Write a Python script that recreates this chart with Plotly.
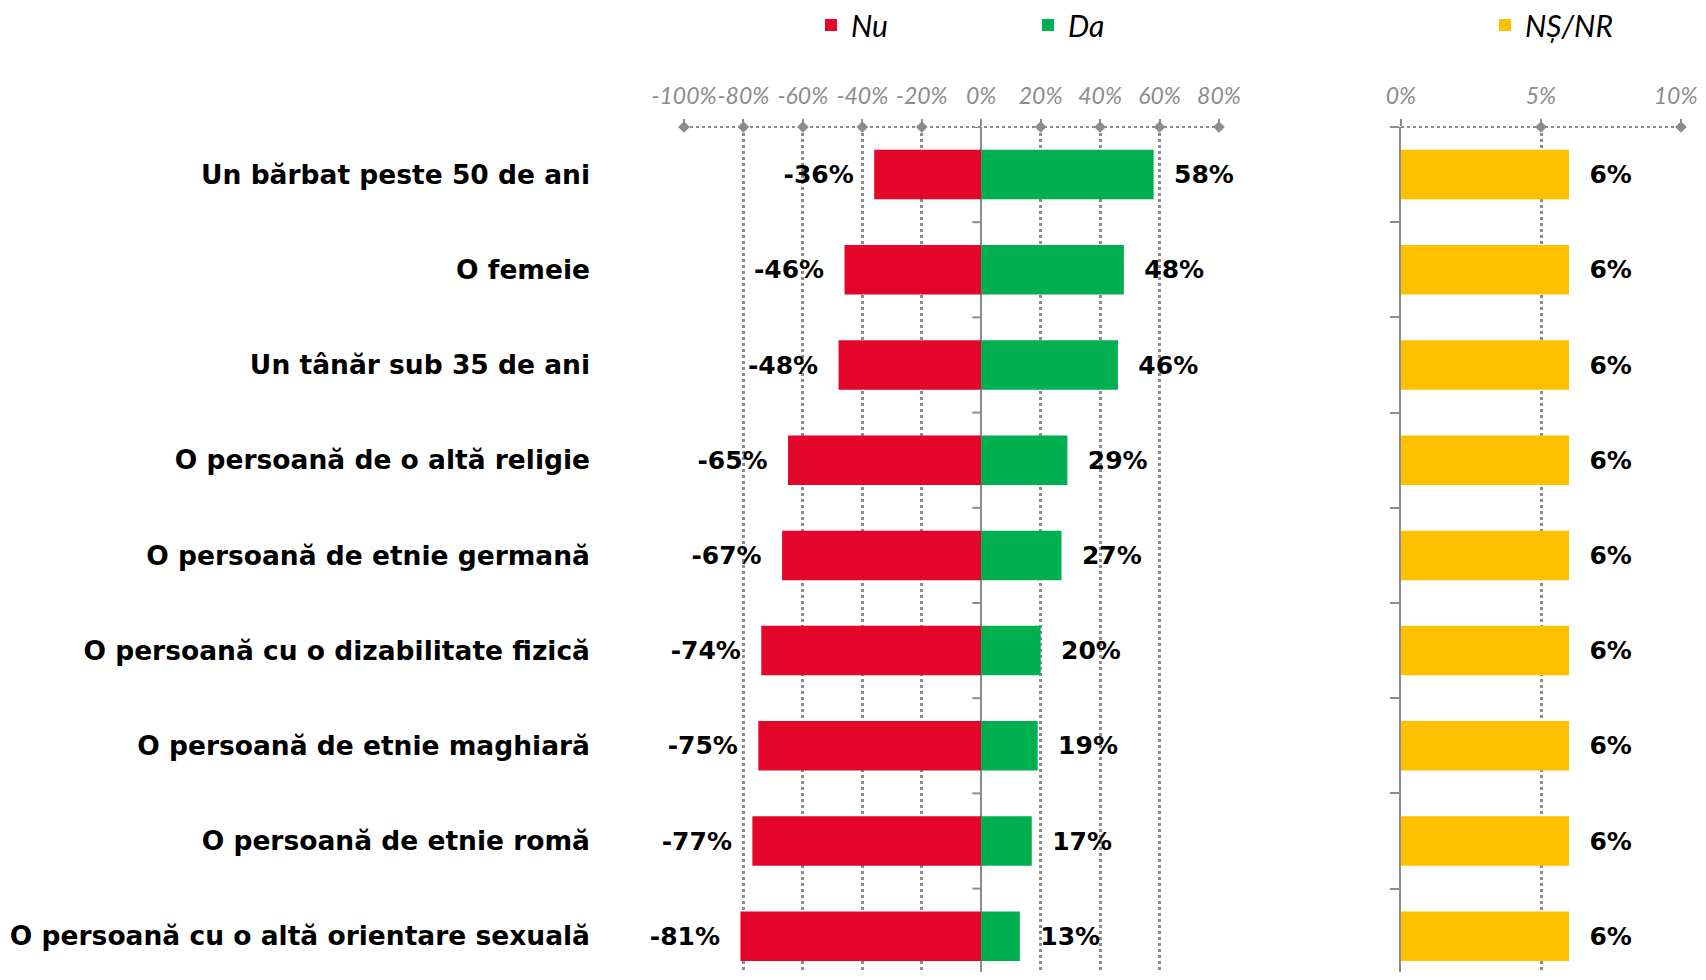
import plotly.graph_objects as go

categories = [
    "Un bărbat peste 50 de ani",
    "O femeie",
    "Un tânăr sub 35 de ani",
    "O persoană de o altă religie",
    "O persoană de etnie germană",
    "O persoană cu o dizabilitate fizică",
    "O persoană de etnie maghiară",
    "O persoană de etnie romă",
    "O persoană cu o altă orientare sexuală",
]
nu_values = [-36, -46, -48, -65, -67, -74, -75, -77, -81]
da_values = [58, 48, 46, 29, 27, 20, 19, 17, 13]
ns_values = [6, 6, 6, 6, 6, 6, 6, 6, 6]

left_ticks = [-100, -80, -60, -40, -20, 0, 20, 40, 60, 80]
left_ticklabels = ["-100%", "-80%", "-60%", "-40%", "-20%", "0%", "20%", "40%", "60%", "80%"]
right_ticks = [0, 5, 10]
right_ticklabels = ["0%", "5%", "10%\u00a0\u00a0"]

RED = "#E4052B"
GREEN = "#00B050"
YELLOW = "#FFC000"
GRAY = "#8C8C8C"
BOLD_FONT = "DejaVu Sans"
IT_FONT = "Lato"

OFF = 8  # page body margin (both sides)
W, H = 1706 - 2 * OFF, 980 - 2 * OFF
top_px = 127 - OFF
lx0, lx1 = 684 - OFF, 1219 - OFF
rx0, rx1 = 1401 - OFF, 1681 - OFF
row_px = 95.2
y_range = [-0.5 + (H - top_px) / row_px, -0.5]  # reversed: first category at top

label_font = dict(family=BOLD_FONT, size=25, color="black", weight="bold")

fig = go.Figure()
fig.add_trace(go.Bar(
    name="Nu", y=categories, x=nu_values, orientation="h",
    marker=dict(color=RED, line=dict(width=0)),
    text=[f"{v}%  " for v in nu_values], textposition="outside",
    textfont=label_font, cliponaxis=False, constraintext="none",
    xaxis="x", yaxis="y", legend="legend", hoverinfo="x+y",
))
fig.add_trace(go.Bar(
    name="Da", y=categories, x=da_values, orientation="h",
    marker=dict(color=GREEN, line=dict(width=0)),
    text=[f"  {v}%" for v in da_values], textposition="outside",
    textfont=label_font, cliponaxis=False, constraintext="none",
    xaxis="x", yaxis="y", legend="legend", hoverinfo="x+y",
))
fig.add_trace(go.Bar(
    name="NȘ/NR", y=categories, x=ns_values, orientation="h",
    marker=dict(color=YELLOW, line=dict(width=0)),
    text=[f"  {v}%" for v in ns_values], textposition="outside",
    textfont=label_font, cliponaxis=False, constraintext="none",
    xaxis="x2", yaxis="y2", legend="legend2", hoverinfo="x+y",
))

# diamond markers on the top axis lines
fig.add_trace(go.Scatter(
    x=[t for t in left_ticks if t != 0], y=[1] * (len(left_ticks) - 1),
    mode="markers", marker=dict(symbol="diamond", size=9, color=GRAY),
    xaxis="x", yaxis="y3", showlegend=False, cliponaxis=False, hoverinfo="skip",
))
fig.add_trace(go.Scatter(
    x=[t for t in right_ticks if t != 0], y=[1] * (len(right_ticks) - 1),
    mode="markers", marker=dict(symbol="diamond", size=9, color=GRAY),
    xaxis="x2", yaxis="y4", showlegend=False, cliponaxis=False, hoverinfo="skip",
))

ydom = [0, 1]
tick_font = dict(family=IT_FONT, size=23, color=GRAY, style="italic")

shapes = []
shapes.append(dict(type="line", xref="x", yref="y domain", x0=-100, x1=80, y0=1, y1=1,
                   line=dict(color=GRAY, width=2, dash="dot"), layer="above"))
shapes.append(dict(type="line", xref="x2", yref="y2 domain", x0=0, x1=10, y0=1, y1=1,
                   line=dict(color=GRAY, width=2, dash="dot"), layer="above"))
for i in range(len(categories)):
    shapes.append(dict(type="line", xref="x", yref="y", x0=-3, x1=0, y0=i - 0.5, y1=i - 0.5,
                       line=dict(color=GRAY, width=2), layer="above"))

leg_y = 1 + (top_px - 17) / (H - top_px)

fig.update_layout(
    width=W, height=H,
    margin=dict(l=0, r=0, t=top_px, b=0, autoexpand=False),
    paper_bgcolor="white", plot_bgcolor="white",
    barmode="overlay", bargap=0.48,
    font=dict(family=BOLD_FONT, color="black"),
    shapes=shapes,
    xaxis=dict(
        domain=[lx0 / W, lx1 / W], range=[-100, 80], side="top",
        tickmode="array", tickvals=left_ticks, ticktext=left_ticklabels, tickangle=0,
        tickfont=tick_font, ticks="outside", ticklen=7, tickcolor=GRAY, tickwidth=2,
        ticklabelstandoff=6, automargin=False, ticklabeloverflow="allow",
        showgrid=True, gridcolor=GRAY, griddash="dot", gridwidth=2.5,
        zeroline=True, zerolinecolor=GRAY, zerolinewidth=2,
        showline=False, anchor="y", fixedrange=True,
    ),
    yaxis=dict(
        domain=ydom, type="category", categoryorder="array", categoryarray=categories,
        range=y_range, showgrid=False, zeroline=False, showline=False,
        ticks="", tickfont=dict(family=BOLD_FONT, size=26.5, color="black", weight="bold"),
        ticklabelstandoff=93, automargin=False, anchor="x", fixedrange=True,
    ),
    yaxis3=dict(overlaying="y", range=[0, 1], visible=False, anchor="x", fixedrange=True),
    xaxis2=dict(
        domain=[rx0 / W, rx1 / W], range=[0, 10], side="top",
        tickmode="array", tickvals=right_ticks, ticktext=right_ticklabels, tickangle=0,
        tickfont=tick_font, ticks="outside", ticklen=7, tickcolor=GRAY, tickwidth=2,
        ticklabelstandoff=6, automargin=False, ticklabeloverflow="allow",
        showgrid=True, gridcolor=GRAY, griddash="dot", gridwidth=2.5,
        zeroline=False, showline=False, anchor="y2", fixedrange=True,
    ),
    yaxis2=dict(
        domain=ydom, type="category", categoryorder="array", categoryarray=categories,
        range=y_range, showgrid=False, zeroline=False,
        showline=True, linecolor=GRAY, linewidth=2,
        ticks="outside", tickson="boundaries", ticklen=9, tickcolor=GRAY, tickwidth=2,
        showticklabels=False, automargin=False, anchor="x2", fixedrange=True,
    ),
    yaxis4=dict(overlaying="y2", range=[0, 1], visible=False, anchor="x2", fixedrange=True),
    legend=dict(
        orientation="h", x=803 / W, xanchor="left", y=leg_y,
        yanchor="middle", font=dict(family=IT_FONT, size=30, color="black", style="italic"),
        entrywidth=172, bgcolor="rgba(0,0,0,0)", itemclick=False, itemdoubleclick=False,
    ),
    legend2=dict(
        orientation="h", x=1477 / W, xanchor="left", y=leg_y,
        yanchor="middle", font=dict(family=IT_FONT, size=30, color="black", style="italic"),
        entrywidth=150, bgcolor="rgba(0,0,0,0)", itemclick=False, itemdoubleclick=False,
    ),
)

fig.write_html("out.html")
